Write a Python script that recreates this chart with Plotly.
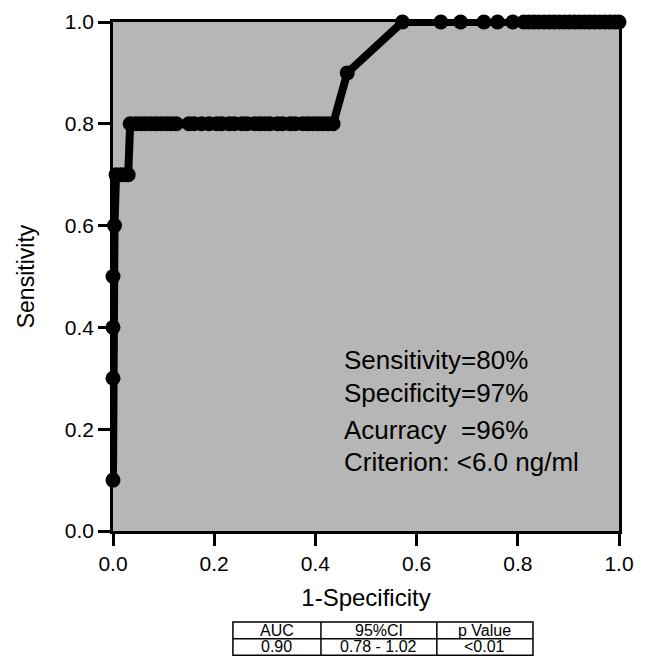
import plotly.graph_objects as go

# ROC curve points (1-Specificity, Sensitivity)
fpr = [0.0, 0.0, 0.0, 0.0, 0.003, 0.006, 0.016, 0.025, 0.03, 0.034,
       0.045, 0.055, 0.065, 0.075, 0.085, 0.095, 0.105, 0.115, 0.125,
       0.15, 0.16, 0.175, 0.19, 0.205, 0.215, 0.23, 0.24, 0.255, 0.265,
       0.28, 0.29, 0.30, 0.31, 0.325, 0.335, 0.35, 0.36, 0.375, 0.385,
       0.395, 0.405, 0.415, 0.425, 0.435,
       0.463, 0.572, 0.648, 0.687, 0.733, 0.76, 0.79,
       0.812, 0.822, 0.832, 0.842, 0.852, 0.862, 0.872, 0.882, 0.892,
       0.902, 0.912, 0.922, 0.932, 0.942, 0.952, 0.962, 0.972, 0.982,
       0.992, 1.0]
tpr = [0.1, 0.3, 0.4, 0.5, 0.6, 0.7, 0.7, 0.7, 0.7, 0.8,
       0.8, 0.8, 0.8, 0.8, 0.8, 0.8, 0.8, 0.8, 0.8,
       0.8, 0.8, 0.8, 0.8, 0.8, 0.8, 0.8, 0.8, 0.8, 0.8,
       0.8, 0.8, 0.8, 0.8, 0.8, 0.8, 0.8, 0.8, 0.8, 0.8,
       0.8, 0.8, 0.8, 0.8, 0.8,
       0.9, 1.0, 1.0, 1.0, 1.0, 1.0, 1.0,
       1.0, 1.0, 1.0, 1.0, 1.0, 1.0, 1.0, 1.0, 1.0,
       1.0, 1.0, 1.0, 1.0, 1.0, 1.0, 1.0, 1.0, 1.0,
       1.0, 1.0]

tick_vals = [0.0, 0.2, 0.4, 0.6, 0.8, 1.0]
tick_text = ["0.0", "0.2", "0.4", "0.6", "0.8", "1.0"]

stats_lines = ["Sensitivity=80%", "Specificity=97%",
               "Acurracy\u00a0\u00a0=96%", "Criterion: <6.0 ng/ml"]
stats_y = [0.336, 0.271, 0.198, 0.136]

table_header = ["AUC", "95%CI", "p Value"]
table_row = ["0.90", "0.78 - 1.02", "<0.01"]
table_col_edges = [0.237, 0.411, 0.640, 0.830]   # paper x
table_row_edges = [-0.179, -0.2115, -0.244]      # paper y

FONT = "Liberation Sans, Arial, Helvetica, sans-serif"

fig = go.Figure()
fig.add_trace(go.Scatter(
    x=fpr, y=tpr, mode="lines+markers",
    line=dict(color="black", width=8),
    marker=dict(color="black", size=15),
    cliponaxis=False, showlegend=False))

for txt, yy in zip(stats_lines, stats_y):
    fig.add_annotation(x=0.453, y=yy, xref="x", yref="y", text=txt,
                       showarrow=False, xanchor="left", yanchor="middle",
                       font=dict(family=FONT, size=26, color="black"))

# table: outer box + grid lines
lw = 1.5
fig.add_shape(type="rect", xref="paper", yref="paper",
              x0=table_col_edges[0], x1=table_col_edges[-1],
              y0=table_row_edges[-1], y1=table_row_edges[0],
              line=dict(color="black", width=lw), fillcolor="white")
for xe in table_col_edges[1:-1]:
    fig.add_shape(type="line", xref="paper", yref="paper",
                  x0=xe, x1=xe, y0=table_row_edges[-1], y1=table_row_edges[0],
                  line=dict(color="black", width=lw))
for ye in table_row_edges[1:-1]:
    fig.add_shape(type="line", xref="paper", yref="paper",
                  x0=table_col_edges[0], x1=table_col_edges[-1], y0=ye, y1=ye,
                  line=dict(color="black", width=lw))
for row_i, row in enumerate([table_header, table_row]):
    yc = (table_row_edges[row_i] + table_row_edges[row_i + 1]) / 2
    for col_i, txt in enumerate(row):
        xc = (table_col_edges[col_i] + table_col_edges[col_i + 1]) / 2
        fig.add_annotation(x=xc, y=yc, xref="paper", yref="paper", text=txt,
                           showarrow=False, xanchor="center", yanchor="middle",
                           height=15, borderpad=0,
                           font=dict(family=FONT, size=16, color="black"))

axis_common = dict(range=[0, 1], tickvals=tick_vals, ticktext=tick_text,
                   ticks="outside", ticklen=12, tickwidth=2.5, tickcolor="black",
                   showline=True, linewidth=2.5, linecolor="black", mirror=True,
                   showgrid=False, zeroline=False, automargin=False,
                   tickfont=dict(family=FONT, size=21, color="black"))

fig.update_layout(
    width=654, height=672,
    margin=dict(l=113, r=35, t=22, b=141),
    paper_bgcolor="white", plot_bgcolor="#b6b6b6",
    font=dict(family=FONT, color="black"),
    xaxis=dict(**axis_common,
               title=dict(text="1-Specificity", standoff=16,
                          font=dict(family=FONT, size=24))),
    yaxis=dict(**axis_common,
               title=dict(text="Sensitivity", standoff=24,
                          font=dict(family=FONT, size=23))),
)

fig.write_html("out.html")
